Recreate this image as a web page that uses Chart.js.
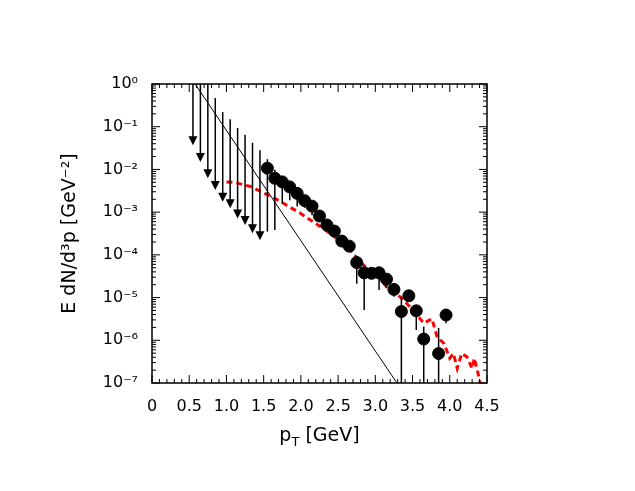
<!DOCTYPE html>
<html>
<head>
<meta charset="utf-8">
<script src="https://cdn.jsdelivr.net/npm/chart.js@4"></script>
<style>body{margin:0;background:#fff}#wrap{width:635px;height:491px}</style>
</head>
<body>
<div id="wrap"><canvas id="myChart"></canvas></div>
<script>
// measured points
var ptX = [1.55,1.65,1.75,1.85,1.95,2.05,2.15,2.25,2.35,2.45,2.55,2.65,2.75,2.85,2.95,3.05,3.15,3.25,3.35,3.45,3.55,3.65,3.85,3.95];
var ptY = [1.07e-2,6.2e-3,5.1e-3,3.9e-3,2.75e-3,1.86e-3,1.38e-3,8.1e-4,5.0e-4,3.6e-4,2.1e-4,1.6e-4,6.6e-5,3.8e-5,3.7e-5,3.8e-5,2.7e-5,1.55e-5,4.7e-6,1.1e-5,4.9e-6,1.07e-6,4.9e-7,3.9e-6];
var ptHi = [1.74e-2,9.8e-3,6.2e-3,5.1e-3,3.3e-3,2.1e-3,1.6e-3,1.0e-3,6.0e-4,4.3e-4,2.6e-4,2.0e-4,9.3e-5,4.8e-5,4.4e-5,4.8e-5,3.2e-5,1.95e-5,1.05e-5,1.4e-5,6.0e-6,2.1e-6,1.95e-6,4.7e-6];
var ptLo = [3.5e-4,3.8e-4,1.6e-3,1.9e-3,1.35e-3,1.26e-3,8.5e-4,6.0e-4,3.5e-4,2.9e-4,1.55e-4,1.3e-4,2.1e-5,5.1e-6,2.8e-5,1.5e-5,1.66e-5,1.05e-5,1e-7,8.7e-6,1.74e-6,1e-7,1e-7,2.5e-6];

// upper limits
var limX = [0.55,0.65,0.75,0.85,0.95,1.05,1.15,1.25,1.35,1.45];
var limTip = [3.7e-2,1.5e-2,6.2e-3,3.3e-3,1.74e-3,1.23e-3,7.1e-4,5.0e-4,3.2e-4,2.2e-4];
var limTop = [2,2,2,0.47,0.22,0.15,0.093,0.065,0.042,0.028];

// model curves
var lineX = [0.5, 3.4];
var lineY = [1.6, 5.2e-8];
var redX = [1.0,1.1,1.32,1.65,1.99,2.26,2.48,2.66,2.84,3.02,3.15,3.33,3.51,3.65,3.76,3.83,3.92,4.0,4.05,4.10,4.16,4.23,4.30,4.33,4.41];
var redY = [5.1e-3,5.0e-3,4.0e-3,2.1e-3,9.5e-4,4.6e-4,2.45e-4,1.3e-4,5.8e-5,3.4e-5,1.8e-5,1.05e-5,5.1e-6,2.5e-6,3.2e-6,1.2e-6,8.5e-7,3.8e-7,4.9e-7,2.2e-7,4.9e-7,4.1e-7,2.2e-7,3.8e-7,1e-7];

var yTicks = [1,1e-1,1e-2,1e-3,1e-4,1e-5,1e-6,1e-7];
var yLabels = ['10\u2070','10\u207B\u00B9','10\u207B\u00B2','10\u207B\u00B3','10\u207B\u2074','10\u207B\u2075','10\u207B\u2076','10\u207B\u2077'];

function zip(xs, ys) {
    return xs.map(function (x, i) { return {x: x, y: ys[i]}; });
}

var FONT = '"DejaVu Sans", sans-serif';

var decor = {
    id: 'decor',
    afterDatasetsDraw: function (chart) {
        var c = chart.ctx, a = chart.chartArea;
        var sx = chart.scales.x, sy = chart.scales.y;
        c.save();
        c.beginPath(); c.rect(a.left, a.top, a.right - a.left, a.bottom - a.top); c.clip();
        c.strokeStyle = '#000'; c.fillStyle = '#000'; c.lineWidth = 1.5;
        // upper limit arrows
        limX.forEach(function (x, i) {
            var px = sx.getPixelForValue(x), t = sy.getPixelForValue(limTop[i]), b = sy.getPixelForValue(limTip[i]);
            c.beginPath(); c.moveTo(px, t); c.lineTo(px, b - 8); c.stroke();
            c.beginPath(); c.moveTo(px - 4.5, b - 9); c.lineTo(px + 4.5, b - 9); c.lineTo(px, b); c.closePath(); c.fill();
        });
        // error bars
        c.lineWidth = 1.5;
        ptX.forEach(function (x, i) {
            var px = sx.getPixelForValue(x);
            c.beginPath(); c.moveTo(px, sy.getPixelForValue(ptHi[i])); c.lineTo(px, sy.getPixelForValue(ptLo[i])); c.stroke();
        });
        c.restore();
        // ticks
        c.save();
        c.strokeStyle = '#000'; c.lineWidth = 1;
        c.beginPath();
        for (var k = 0; k <= 45; k++) {
            var px = sx.getPixelForValue(k / 10), len = (k % 5 === 0) ? 8 : 4;
            c.moveTo(px, a.bottom); c.lineTo(px, a.bottom - len);
            c.moveTo(px, a.top); c.lineTo(px, a.top + len);
        }
        for (var e = -7; e <= 0; e++) {
            for (var m = 1; m <= 9; m++) {
                var v = m * Math.pow(10, e);
                if (v > 1.0001) continue;
                var py = sy.getPixelForValue(v), l = (m === 1) ? 8 : 4;
                c.moveTo(a.left, py); c.lineTo(a.left + l, py);
                c.moveTo(a.right, py); c.lineTo(a.right - l, py);
            }
        }
        c.stroke();
        c.lineWidth = 1.5;
        c.strokeRect(a.left, a.top, a.right - a.left, a.bottom - a.top);
        // axis titles
        c.fillStyle = '#000';
        c.font = '19px ' + FONT;
        c.textBaseline = 'alphabetic';
        var cx = (a.left + a.right) / 2, by = 441;
        var w1 = c.measureText('p').width, w3 = c.measureText(' [GeV]').width;
        c.font = '13px ' + FONT;
        var w2 = c.measureText('T').width;
        var x0 = cx - (w1 + w2 + w3) / 2;
        c.font = '19px ' + FONT; c.textAlign = 'left';
        c.fillText('p', x0, by);
        c.font = '13px ' + FONT; c.fillText('T', x0 + w1, by + 5);
        c.font = '19px ' + FONT; c.fillText(' [GeV]', x0 + w1 + w2, by);
        c.translate(75, (a.top + a.bottom) / 2);
        c.rotate(-Math.PI / 2);
        c.textAlign = 'center';
        c.fillText('E dN/d\u00B3p [GeV\u207B\u00B2]', 0, 0);
        c.restore();
    }
};

new Chart(document.getElementById('myChart'), {
    type: 'scatter',
    data: {
        datasets: [{
            data: zip(ptX, ptY),
            backgroundColor: '#000', borderColor: '#000',
            pointRadius: 6, pointHoverRadius: 6
        }, {
            type: 'line', data: zip(redX, redY),
            borderColor: '#ff0000', borderWidth: 3, borderDash: [6, 4],
            pointRadius: 0, fill: false, tension: 0
        }, {
            type: 'line', data: zip(lineX, lineY),
            borderColor: '#000', borderWidth: 1,
            pointRadius: 0, fill: false, tension: 0
        }]
    },
    options: {
        responsive: true, maintainAspectRatio: false, animation: false,
        devicePixelRatio: 1,
        layout: {padding: {left: 0, top: 84, right: 148, bottom: 0}},
        plugins: {legend: {display: false}, tooltip: {enabled: false}},
        scales: {
            x: {
                type: 'linear', min: 0, max: 4.5,
                grid: {display: false}, border: {display: false},
                ticks: {stepSize: 0.5, color: '#000', font: {size: 16, family: FONT}, padding: 6, maxRotation: 0},
                afterFit: function (s) { s.height = 108; }
            },
            y: {
                type: 'logarithmic', min: 1e-7, max: 1,
                grid: {display: false}, border: {display: false},
                afterBuildTicks: function (s) { s.ticks = yTicks.map(function (v) { return {value: v}; }); },
                ticks: {
                    color: '#000', font: {size: 16, family: FONT}, padding: 6,
                    callback: function (v) { var i = yTicks.indexOf(v); return i >= 0 ? yLabels[i] : ''; }
                },
                afterFit: function (s) { s.width = 152; }
            }
        }
    },
    plugins: [decor]
});
</script>
</body>
</html>
